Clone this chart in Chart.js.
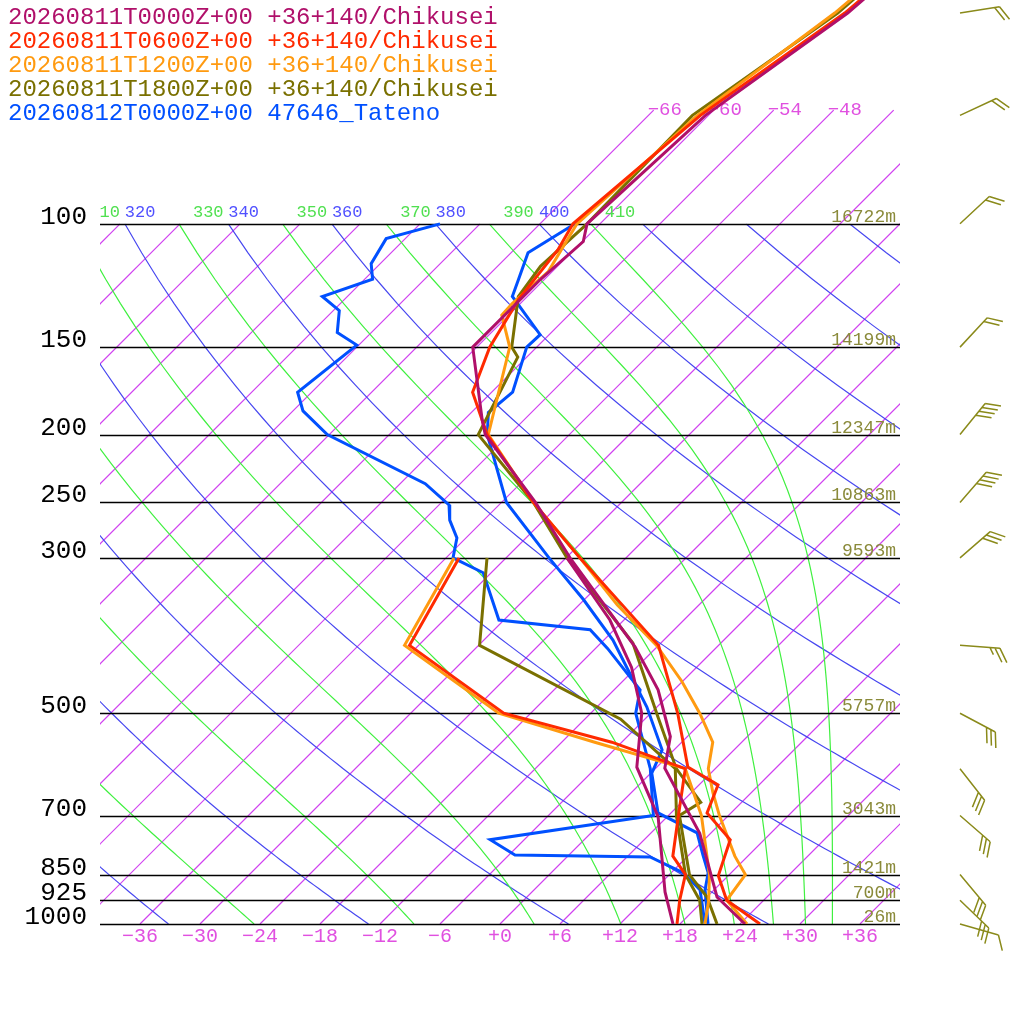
<!DOCTYPE html>
<html>
<head>
<meta charset="utf-8">
<script src="https://cdn.jsdelivr.net/npm/chart.js@4"></script>
<style>
  html, body { margin: 0; padding: 0; background: #fff; }
  canvas { display: block; }
</style>
</head>
<body>
<canvas id="skewt" width="1024" height="1024"></canvas>
<script>
// ---- data (pressure hPa, temperature degC) ----
const runLabels = [
  "20260811T0000Z+00 +36+140/Chikusei",
  "20260811T0600Z+00 +36+140/Chikusei",
  "20260811T1200Z+00 +36+140/Chikusei",
  "20260811T1800Z+00 +36+140/Chikusei",
  "20260812T0000Z+00 47646_Tateno"
];
const runColors = ["#b0106a", "#ff2a00", "#ff9a10", "#7a7000", "#0050ff"];

const p0T = [45,50,70,100,106,120,150,191,200,250,300,402,463,540,599,742,915,1000];
const t0T = [-55.8,-56.3,-60.3,-61.3,-59.9,-60.4,-60.4,-52.1,-50.4,-38.6,-29.6,-14.2,-7.6,-1.7,0.9,10.9,19.0,24.5];
const p0D = [300,368,430,500,597,703,900,1000];
const t0D = [-29.9,-19.4,-12.5,-6.9,-2.0,5.1,13.3,17.3];

const p1T = [45,50,70,100,109,128,150,174,191,200,250,300,400,500,597,633,694,758,853,925,1000];
const t1T = [-56.0,-56.6,-60.8,-62.7,-61.6,-60.6,-58.7,-55.9,-52.1,-50.2,-38.8,-28.6,-12,-3.3,3.1,7.9,9.6,14.6,17,20.3,26.0];
const p1D = [300,400,500,550,600,700,800,850,925,1000];
const t1D = [-40.7,-36.9,-20.7,-7,3,7,10.5,13.6,15.6,17.7];

const p2T = [45,50,70,100,117,130,135,150,174,200,250,300,350,400,450,500,550,600,650,700,800,850,925,1000];
const t2T = [-57.0,-57.6,-61.1,-62.3,-60.4,-60.8,-60.7,-56.7,-53.3,-50.1,-38.8,-28.6,-20.2,-12.2,-6.1,-1.1,3.1,5.3,8.2,11.1,16.7,19.6,20.3,24.7];
const p2D = [300,400,500,550,600,700,850,925,1000];
const t2D = [-41.2,-37.4,-21.2,-8.7,3.0,9.3,16,18.5,20.5];

const p3T = [45,50,70,100,115,127,150,155,200,250,300,397,505,600,670,700,850,915,1000];
const t3T = [-56.8,-57.3,-61.6,-61.3,-61.7,-60.9,-56.5,-54.9,-51.1,-38.8,-29.9,-14.8,-5.0,2.1,7.9,7.1,14.0,18.0,21.7];
const p3D = [300,400,510,600,700,850,925,1000];
const t3D = [-37.9,-29.9,-8.4,2,6.8,13.6,17.6,20.2];

const p4T = [100,110,120,127,144,150,174,186,200,250,300,344,393,490,564,609,694,741,797,845,894,1000];
const t4T = [-62.5,-64.3,-62.6,-61.5,-54.9,-55,-51.9,-52.3,-50.2,-41.5,-31.7,-24.1,-17.1,-7,-1.2,0.1,4.7,10.6,13.4,15.7,17.1,20.8];
const p4D = [100,105,114,120,127,133,143,149,174,185,200,235,252,265,281,300,315,368,380,404,463,500,600,700,758,797,802,845,894,1000];
const t4D = [-76,-79.9,-78.9,-77.2,-80.5,-77.4,-75.4,-72.2,-73.4,-71,-66.2,-51.5,-47,-45.4,-42.9,-41.3,-36.8,-30.5,-20.4,-16.8,-9.4,-7.5,-0.5,4.5,-9.4,-5.4,8.3,13.2,16.6,20.5];

const levelP = [100,150,200,250,300,500,700,850,925,1000];
const levelH = ["16722m","14199m","12347m","10863m","9593m","5757m","3043m","1421m","700m","26m"];
const tempTicks = [-36,-30,-24,-18,-12,-6,0,6,12,18,24,30,36];

const windP = [50,70,100,150,200,250,300,400,500,600,700,850,925,1000];
const windDir = [81,65,47,43,39,41,49,94,118,142,131,140,134,106];
const windSpd = [20,20,20,20,40,40,30,25,30,30,30,30,30,10];

// ---- skew-T helpers ----
const SKEW = 70;                       // degC per decade of pressure
const skewX = (t, p) => t + SKEW * Math.log10(1000 / p);
const toPts = (ps, ts) => ps.map((p, i) => ({ x: skewX(ts[i], p), y: p }));

function thetaE(tc, p) {
  const T = tc + 273.15;
  const es = 6.112 * Math.exp(17.67 * tc / (tc + 243.5));
  const r = 622 * es / (p - es);
  return T * Math.pow(1000 / p, 0.2854 * (1 - 0.00028 * r)) *
    Math.exp((3.376 / T - 0.00254) * r * (1 + 0.00081 * r));
}
function moistT(te, p) {
  let lo = -130, hi = 60;
  for (let i = 0; i < 50; i++) {
    const mid = (lo + hi) / 2;
    if (thetaE(mid, p) < te) lo = mid; else hi = mid;
  }
  return (lo + hi) / 2;
}

const datasets = [];
const sets = [[p0T,t0T,p0D,t0D],[p1T,t1T,p1D,t1D],[p2T,t2T,p2D,t2D],[p3T,t3T,p3D,t3D],[p4T,t4T,p4D,t4D]];
sets.forEach((s, i) => {
  datasets.push({ data: toPts(s[0], s[1]), borderColor: runColors[i], borderWidth: 3, showLine: true, pointRadius: 0, tension: 0 });
  datasets.push({ data: toPts(s[2], s[3]), borderColor: runColors[i], borderWidth: 3, showLine: true, pointRadius: 0, tension: 0 });
});

const MONO = '"Liberation Mono", "Courier New", monospace';

const background = {
  id: "background",
  beforeDatasetsDraw(chart) {
    const { ctx, chartArea: a, scales: { x, y } } = chart;
    const px = (t, p) => x.getPixelForValue(skewX(t, p));
    const py = p => y.getPixelForValue(p);
    const yTop = py(100);
    const pLog = [];
    for (let p = 1000; p >= 99.9; p -= 10) pLog.push(p);

    ctx.save();
    ctx.beginPath();
    ctx.rect(a.left, a.top, a.right - a.left, a.bottom - a.top);
    ctx.clip();
    ctx.lineWidth = 1.2;

    // isotherms
    ctx.strokeStyle = "#d040f0";
    for (let t = -150; t <= 42; t += 6) {
      const pt = t >= -66 ? 68.8 : 100;
      ctx.beginPath();
      ctx.moveTo(px(t, 1000), py(1000));
      ctx.lineTo(px(t, pt), py(pt));
      ctx.stroke();
    }

    ctx.beginPath();
    ctx.rect(a.left, yTop, a.right - a.left, a.bottom - yTop);
    ctx.clip();

    // dry adiabats
    ctx.strokeStyle = "#4848f0";
    for (let th = 240; th <= 460; th += 20) {
      ctx.beginPath();
      pLog.forEach((p, i) => {
        const t = th * Math.pow(p / 1000, 0.286) - 273.15;
        i ? ctx.lineTo(px(t, p), py(p)) : ctx.moveTo(px(t, p), py(p));
      });
      ctx.stroke();
    }
    // moist adiabats
    ctx.strokeStyle = "#40f040";
    for (let te = 250; te <= 410; te += 20) {
      ctx.beginPath();
      pLog.forEach((p, i) => {
        const t = moistT(te, p);
        i ? ctx.lineTo(px(t, p), py(p)) : ctx.moveTo(px(t, p), py(p));
      });
      ctx.stroke();
    }
    ctx.restore();

    // pressure levels
    ctx.save();
    ctx.strokeStyle = "#000";
    ctx.lineWidth = 1.3;
    levelP.forEach((p, i) => {
      const yy = Math.round(py(p)) + 0.5;
      ctx.beginPath();
      ctx.moveTo(a.left, yy);
      ctx.lineTo(a.right, yy);
      ctx.stroke();
      ctx.fillStyle = "#000";
      ctx.font = "26px " + MONO;
      ctx.textAlign = "right";
      ctx.textBaseline = "middle";
      ctx.fillText(String(p), 87, yy - 7);
      ctx.fillStyle = "#8a8a3a";
      ctx.font = "18px " + MONO;
      ctx.textBaseline = "alphabetic";
      ctx.fillText(levelH[i], a.right - 4, yy - 3);
    });

    // temperature ticks
    ctx.fillStyle = "#e050e0";
    ctx.font = "20px " + MONO;
    ctx.textAlign = "center";
    ctx.textBaseline = "middle";
    tempTicks.forEach(t => {
      const s = t > 0 ? "+" + t : t < 0 ? "\u2212" + (-t) : "+0";
      ctx.fillText(s, px(t, 1000), a.bottom + 13);
    });
    // isotherm labels aloft
    ctx.font = "19px " + MONO;
    ctx.textAlign = "left";
    [-66, -60, -54, -48].forEach(t => {
      ctx.fillText("\u2212" + (-t), px(t, 68.8) - 6, py(68.8));
    });

    // theta labels on 100 hPa
    ctx.beginPath();
    ctx.rect(a.left, 0, a.right - a.left, a.bottom);
    ctx.clip();
    ctx.font = "17px " + MONO;
    for (let th = 310; th <= 410; th += 10) {
      const dry = th % 20 === 0;
      const t = dry ? th * Math.pow(0.1, 0.286) - 273.15 : moistT(th, 100);
      ctx.fillStyle = dry ? "#5050ff" : "#50e050";
      ctx.fillText(String(th), px(t, 100) + (dry ? 0 : 14), yTop - 11);
    }
    ctx.restore();
  },
  afterDatasetsDraw(chart) {
    const { ctx, scales: { y } } = chart;
    ctx.save();
    // legend
    ctx.font = "24px " + MONO;
    ctx.textAlign = "left";
    ctx.textBaseline = "alphabetic";
    runLabels.forEach((s, i) => {
      ctx.fillStyle = runColors[i];
      ctx.fillText(s, 8, 24 + i * 24);
    });
    // wind barbs
    ctx.strokeStyle = "#8a8a1a";
    ctx.lineWidth = 1.5;
    windP.forEach((p, i) => {
      const x0 = 960, y0 = y.getPixelForValue(p);
      const ang = (windDir[i] - 90) * Math.PI / 180;
      const dx = Math.cos(ang), dy = Math.sin(ang);
      const fx = Math.cos(ang + 1.05), fy = Math.sin(ang + 1.05);
      const L = 40;
      ctx.beginPath();
      ctx.moveTo(x0, y0);
      ctx.lineTo(x0 + dx * L, y0 + dy * L);
      let spd = windSpd[i], pos = L;
      while (spd >= 10) {
        const bx = x0 + dx * pos, by = y0 + dy * pos;
        ctx.moveTo(bx, by);
        ctx.lineTo(bx + fx * 16, by + fy * 16);
        pos -= 5; spd -= 10;
      }
      if (spd >= 5) {
        const bx = x0 + dx * pos, by = y0 + dy * pos;
        ctx.moveTo(bx, by);
        ctx.lineTo(bx + fx * 8, by + fy * 8);
      }
      ctx.stroke();
    });
    ctx.restore();
  }
};

new Chart(document.getElementById("skewt"), {
  type: "scatter",
  data: { datasets },
  options: {
    responsive: false,
    animation: false,
    devicePixelRatio: 1,
    layout: { padding: { left: 100, right: 124, top: 0, bottom: 100 } },
    scales: {
      x: { type: "linear", min: -40, max: 40, display: false },
      y: { type: "logarithmic", min: 47.9, max: 1000, reverse: true, display: false }
    },
    plugins: { legend: { display: false }, tooltip: { enabled: false } }
  },
  plugins: [background]
});
</script>
</body>
</html>
